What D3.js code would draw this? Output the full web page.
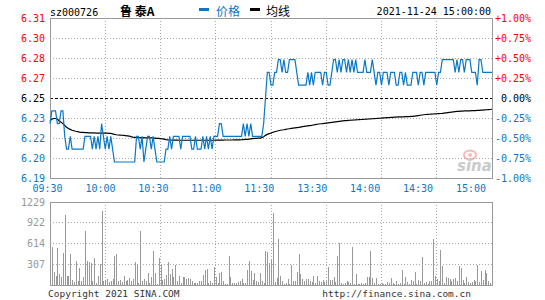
<!DOCTYPE html>
<html>
<head>
<meta charset="utf-8">
<script src="https://cdn.jsdelivr.net/npm/d3@7"></script>
<style>
  body { margin: 0; background: #fff; }
  text { font-family: "DejaVu Sans Mono", monospace; font-size: 10px; }
</style>
</head>
<body>
<script>
// quote info
var stockCode = "sz000726";
var stockName = "鲁 泰A";
var quoteTime = "2021-11-24 15:00:00";
var prevClose = 6.25;

// axis labels
var timeLabels = ["09:30", "10:00", "10:30", "11:00", "11:30", "13:30", "14:00", "14:30", "15:00"];
var gridMinutes = [0, 30, 60, 90, 120, 150, 180, 210, 240];
var pctTicks = [1, 0.75, 0.5, 0.25, 0, -0.25, -0.5, -0.75, -1];
var priceLabels = ["6.31", "6.30", "6.28", "6.27", "6.25", "6.23", "6.22", "6.20", "6.19"];
var pctLabels = ["+1.00%", "+0.75%", "+0.50%", "+0.25%", "0.00%", "-0.25%", "-0.50%", "-0.75%", "-1.00%"];
var volMax = 1229;
var volTicks = [1229, 922, 614, 307];

// one value per minute, 09:30-11:30 then 13:01-15:00
var prices = [
  6.23,6.24,6.24,6.24,6.23,6.23,6.24,6.24,6.22,6.21,
  6.21,6.22,6.21,6.21,6.21,6.21,6.21,6.21,6.21,6.22,
  6.22,6.22,6.22,6.21,6.22,6.21,6.22,6.21,6.23,6.22,
  6.21,6.22,6.21,6.22,6.21,6.20,6.20,6.20,6.20,6.20,
  6.20,6.20,6.20,6.20,6.20,6.20,6.20,6.22,6.22,6.21,
  6.22,6.20,6.21,6.22,6.22,6.21,6.22,6.21,6.20,6.20,
  6.20,6.20,6.20,6.21,6.21,6.22,6.21,6.22,6.22,6.22,
  6.22,6.21,6.22,6.22,6.22,6.22,6.22,6.21,6.21,6.22,
  6.21,6.21,6.21,6.22,6.21,6.22,6.21,6.22,6.21,6.22,
  6.22,6.22,6.23,6.23,6.22,6.22,6.22,6.22,6.22,6.22,
  6.22,6.22,6.22,6.22,6.22,6.23,6.22,6.23,6.22,6.23,
  6.22,6.22,6.22,6.22,6.22,6.22,6.23,6.25,6.27,6.27,
  6.26,
  6.26,6.27,6.27,6.28,6.28,6.27,6.28,6.27,6.27,6.28,
  6.28,6.28,6.28,6.27,6.26,6.26,6.26,6.26,6.26,6.27,
  6.26,6.27,6.26,6.27,6.27,6.27,6.27,6.26,6.27,6.27,
  6.26,6.26,6.27,6.28,6.28,6.27,6.28,6.27,6.28,6.28,
  6.27,6.28,6.27,6.28,6.27,6.28,6.27,6.27,6.27,6.27,
  6.28,6.27,6.27,6.27,6.28,6.27,6.26,6.27,6.27,6.26,
  6.27,6.27,6.27,6.26,6.27,6.27,6.27,6.26,6.26,6.27,
  6.27,6.26,6.27,6.26,6.26,6.26,6.27,6.27,6.27,6.26,
  6.27,6.27,6.26,6.27,6.27,6.27,6.27,6.27,6.27,6.26,
  6.27,6.27,6.28,6.28,6.28,6.28,6.28,6.28,6.28,6.27,
  6.28,6.27,6.28,6.28,6.27,6.28,6.28,6.28,6.27,6.27,
  6.27,6.26,6.28,6.28,6.27,6.27,6.27,6.27,6.27,6.27
];

var avgPrices = [
  6.2320,6.2335,6.2340,6.2340,6.2335,6.2320,6.2310,6.2300,6.2285,6.2272,
  6.2262,6.2255,6.2248,6.2244,6.2240,6.2237,6.2234,6.2232,6.2231,6.2230,
  6.2229,6.2228,6.2228,6.2227,6.2227,6.2226,6.2226,6.2226,6.2226,6.2226,
  6.2225,6.2225,6.2224,6.2223,6.2220,6.2216,6.2213,6.2211,6.2210,6.2209,
  6.2208,6.2206,6.2204,6.2202,6.2198,6.2195,6.2193,6.2192,6.2191,6.2191,
  6.2190,6.2190,6.2189,6.2189,6.2188,6.2188,6.2187,6.2186,6.2185,6.2184,
  6.2182,6.2180,6.2178,6.2175,6.2173,6.2172,6.2172,6.2171,6.2171,6.2171,
  6.2170,6.2170,6.2170,6.2170,6.2170,6.2170,6.2170,6.2170,6.2170,6.2170,
  6.2170,6.2170,6.2170,6.2170,6.2170,6.2170,6.2170,6.2170,6.2170,6.2170,
  6.2171,6.2171,6.2171,6.2171,6.2171,6.2172,6.2172,6.2172,6.2172,6.2172,
  6.2173,6.2173,6.2173,6.2173,6.2174,6.2175,6.2176,6.2177,6.2178,6.2180,
  6.2182,6.2184,6.2185,6.2186,6.2187,6.2190,6.2198,6.2208,6.2216,6.2222,
  6.2226,
  6.2232,6.2236,6.2240,6.2244,6.2248,6.2250,6.2252,6.2255,6.2258,6.2260,
  6.2262,6.2264,6.2266,6.2268,6.2270,6.2273,6.2276,6.2278,6.2280,6.2282,
  6.2284,6.2286,6.2289,6.2292,6.2295,6.2297,6.2299,6.2300,6.2302,6.2304,
  6.2306,6.2308,6.2310,6.2312,6.2314,6.2316,6.2318,6.2320,6.2322,6.2323,
  6.2324,6.2325,6.2326,6.2327,6.2328,6.2329,6.2330,6.2331,6.2332,6.2333,
  6.2334,6.2335,6.2336,6.2337,6.2338,6.2339,6.2340,6.2341,6.2342,6.2343,
  6.2344,6.2345,6.2346,6.2347,6.2348,6.2349,6.2350,6.2351,6.2352,6.2352,
  6.2353,6.2353,6.2354,6.2354,6.2355,6.2356,6.2357,6.2359,6.2361,6.2363,
  6.2365,6.2367,6.2369,6.2371,6.2372,6.2373,6.2374,6.2375,6.2376,6.2377,
  6.2378,6.2379,6.2380,6.2382,6.2384,6.2386,6.2388,6.2390,6.2392,6.2394,
  6.2395,6.2396,6.2397,6.2398,6.2399,6.2399,6.2400,6.2400,6.2401,6.2401,
  6.2402,6.2403,6.2404,6.2405,6.2406,6.2407,6.2408,6.2409,6.2410,6.2412
];

var volumes = [
  967,563,193,138,548,163,114,474,1041,138,
  138,459,79,44,360,54,252,64,123,795,
  360,340,326,54,400,30,138,311,1091,64,
  79,89,40,54,94,434,459,54,79,44,
  128,54,79,104,64,94,340,311,30,805,
  54,89,64,178,30,118,508,178,15,400,
  311,79,94,143,340,163,237,118,291,54,
  128,30,114,118,94,104,89,54,30,30,
  30,54,64,143,227,237,30,64,30,262,
  118,25,178,193,64,15,15,424,118,30,
  30,30,44,64,89,25,30,217,350,212,
  69,178,64,40,178,64,25,499,489,326,
  385,1066,44,104,686,128,54,20,25,89,
  15,301,64,54,193,459,163,89,64,89,
  89,54,40,128,30,128,54,40,69,44,
  54,267,79,79,118,40,424,622,30,20,
  30,64,44,30,563,20,163,20,20,30,
  15,30,118,118,508,104,30,104,20,20,
  30,20,20,40,30,104,30,20,54,20,
  30,227,20,118,44,20,79,54,193,20,
  79,54,410,30,44,20,54,64,686,128,
  89,54,523,276,30,118,104,89,64,94,
  104,54,276,252,79,30,118,44,30,44,
  74,54,291,44,202,79,227,178,54,30,30
];

var BLUE = "#0a78c6", RED = "#ff0000", GRAY = "#999";

var svg = d3.select("body").append("svg")
  .attr("width", 545)
  .attr("height", 300);

// scales
var x = d3.scaleLinear().domain([0, 240]).range([50, 492]);
var yPct = d3.scaleLinear().domain([-1, 1]).range([178, 18]);
var yPrice = d3.scaleLinear().domain([prevClose * 0.99, prevClose * 1.01]).range([178, 18]);
var yVol = d3.scaleLinear().domain([0, volMax]).range([285, 202]);
var xLabel = d3.scalePoint().domain(timeLabels).range([47.5, 471]);

function signColor(p) { return p > 0 ? RED : (p < 0 ? BLUE : "#000"); }

// header
svg.append("text").attr("x", 50).attr("y", 16).attr("fill", "#000").text(stockCode);
svg.append("text").attr("x", 120).attr("y", 16)
  .style("font-family", "'Noto Sans CJK SC'").style("font-size", "12px").style("font-weight", "bold")
  .attr("fill", "#000").text(stockName);
svg.append("rect").attr("x", 199).attr("y", 8).attr("width", 10).attr("height", 3).attr("fill", BLUE);
svg.append("text").attr("x", 216).attr("y", 16)
  .style("font-family", "'Noto Sans CJK SC'").style("font-size", "12px")
  .attr("fill", BLUE).text("价格");
svg.append("rect").attr("x", 250).attr("y", 8).attr("width", 10).attr("height", 3).attr("fill", "#000");
svg.append("text").attr("x", 266).attr("y", 16)
  .style("font-family", "'Noto Sans CJK SC'").style("font-size", "12px")
  .attr("fill", "#000").text("均线");
svg.append("text").attr("x", 491).attr("y", 15).attr("text-anchor", "end").attr("fill", "#000").text(quoteTime);

// watermark
var logo = svg.append("g").attr("opacity", 0.55);
logo.append("ellipse").attr("cx", 470).attr("cy", 155).attr("rx", 6).attr("ry", 4.5)
  .attr("fill", "none").attr("stroke", "#f08080").attr("stroke-width", 2);
logo.append("circle").attr("cx", 470).attr("cy", 155).attr("r", 2).attr("fill", "#f08080");
logo.append("text").attr("x", 457).attr("y", 171)
  .style("font-family", "'DejaVu Sans'").style("font-size", "15px")
  .style("font-style", "italic").style("font-weight", "bold")
  .attr("fill", "#a0a0a0").text("sina");

// price grid
var grid = svg.append("g").attr("shape-rendering", "crispEdges");
grid.selectAll(".hg").data(pctTicks.filter(function(d){ return d !== 0 && Math.abs(d) !== 1; }))
  .enter().append("line")
  .attr("x1", x(0)).attr("x2", x(240))
  .attr("y1", function(d){ return yPct(d); }).attr("y2", function(d){ return yPct(d); })
  .attr("stroke", "#aaa").attr("stroke-dasharray", "1,2");
grid.selectAll(".vg").data(gridMinutes.slice(1, -1))
  .enter().append("line")
  .attr("x1", function(d){ return x(d); }).attr("x2", function(d){ return x(d); })
  .attr("y1", yPct(1)).attr("y2", yPct(-1))
  .attr("stroke", "#aaa").attr("stroke-dasharray", "1,2");
grid.append("line")
  .attr("x1", x(0)).attr("x2", x(240))
  .attr("y1", yPct(0)).attr("y2", yPct(0))
  .attr("stroke", "#000").attr("stroke-dasharray", "3,2");
grid.append("rect")
  .attr("x", x(0)).attr("y", yPct(1))
  .attr("width", x(240) - x(0)).attr("height", yPct(-1) - yPct(1))
  .attr("fill", "none").attr("stroke", GRAY);

// price labels left and right
svg.selectAll(".pl").data(pctTicks).enter().append("text")
  .attr("x", 45).attr("y", function(d){ return yPct(d) + 3.5; })
  .attr("text-anchor", "end")
  .attr("fill", signColor)
  .text(function(d, i){ return priceLabels[i]; });
svg.selectAll(".pr").data(pctTicks).enter().append("text")
  .attr("x", 531).attr("y", function(d){ return yPct(d) + 3.5; })
  .attr("text-anchor", "end")
  .attr("fill", signColor)
  .text(function(d, i){ return pctLabels[i]; });

// time labels
svg.selectAll(".tl").data(timeLabels).enter().append("text")
  .attr("x", function(d){ return xLabel(d); }).attr("y", 192)
  .attr("text-anchor", "middle").attr("fill", BLUE)
  .text(function(d){ return d; });

// lines
var priceLine = d3.line()
  .x(function(d, i){ return x(i); })
  .y(function(d){ return yPrice(d); });
svg.append("path").datum(avgPrices).attr("d", priceLine)
  .attr("fill", "none").attr("stroke", "#000").attr("stroke-width", 1.2);
svg.append("path").datum(prices).attr("d", priceLine)
  .attr("fill", "none").attr("stroke", BLUE).attr("stroke-width", 1.2);

// volume panel
var vg = svg.append("g").attr("shape-rendering", "crispEdges");
vg.selectAll(".vh").data(volTicks.slice(1)).enter().append("line")
  .attr("x1", x(0)).attr("x2", x(240))
  .attr("y1", function(d){ return yVol(d); }).attr("y2", function(d){ return yVol(d); })
  .attr("stroke", "#aaa").attr("stroke-dasharray", "1,2");
vg.selectAll(".vv").data(gridMinutes.slice(1, -1)).enter().append("line")
  .attr("x1", function(d){ return x(d); }).attr("x2", function(d){ return x(d); })
  .attr("y1", yVol(volMax)).attr("y2", yVol(0))
  .attr("stroke", "#aaa").attr("stroke-dasharray", "1,2");
vg.selectAll(".bar").data(volumes).enter().append("rect")
  .attr("x", function(d, i){ return Math.round(x(i)); })
  .attr("y", function(d){ return yVol(d); })
  .attr("width", 1)
  .attr("height", function(d){ return yVol(0) - yVol(d); })
  .attr("fill", GRAY);
vg.append("rect")
  .attr("x", x(0)).attr("y", yVol(volMax))
  .attr("width", x(240) - x(0)).attr("height", yVol(0) - yVol(volMax))
  .attr("fill", "none").attr("stroke", GRAY);

svg.selectAll(".vl").data(volTicks).enter().append("text")
  .attr("x", 45).attr("y", function(d){ return yVol(d) + 3.5; })
  .attr("text-anchor", "end").attr("fill", GRAY)
  .text(function(d){ return d; });

// footer
svg.append("text").attr("x", 48).attr("y", 297)
  .style("font-size", "9.5px").attr("fill", "#333").text("Copyright 2021 SINA.COM");
svg.append("text").attr("x", 471).attr("y", 297).attr("text-anchor", "end")
  .style("font-size", "9.5px").attr("fill", "#333").text("http://finance.sina.com.cn");
</script>
</body>
</html>
